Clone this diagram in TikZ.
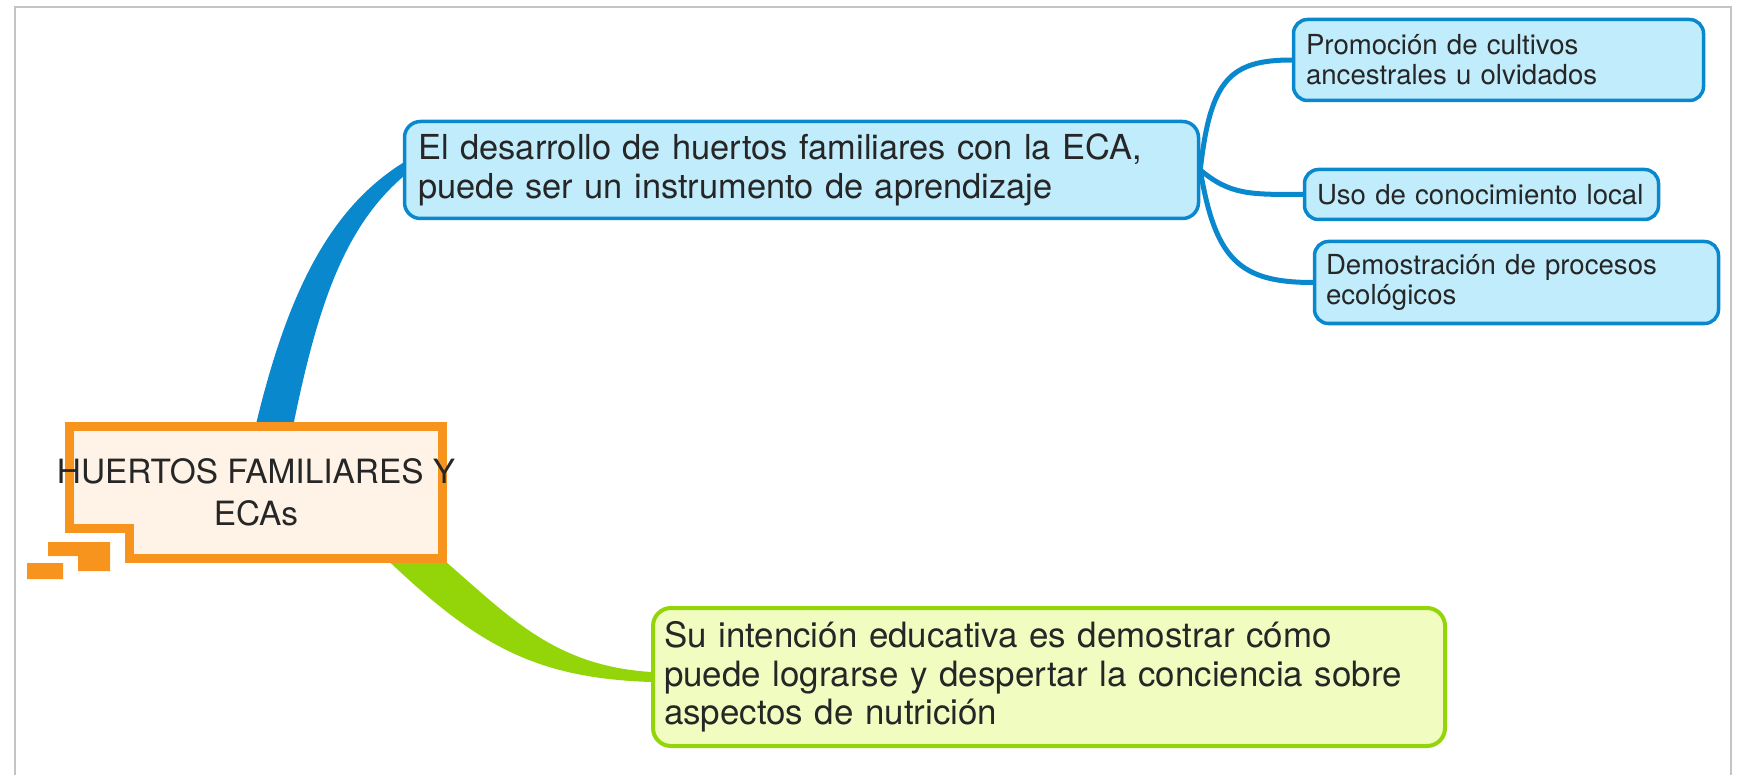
\documentclass[tikz,border=0pt]{standalone}
\usepackage{fontspec}
\setmainfont{TeX Gyre Heros}
\definecolor{cBlue}{HTML}{0A88CE}
\definecolor{cBlueFill}{HTML}{C0ECFC}
\definecolor{cGreen}{HTML}{94D50A}
\definecolor{cGreenFill}{HTML}{F1FCC0}
\definecolor{cOrange}{HTML}{F7941E}
\definecolor{cCream}{HTML}{FEF3E6}
\definecolor{cFrame}{HTML}{C4C4C4}
\definecolor{cInk}{HTML}{262626}
\usetikzlibrary{calc}
\usetikzlibrary{backgrounds}
\tikzset{
	topic/.style={draw=cBlue, fill=cBlueFill, line width=3.5pt, rounded corners=16pt, inner sep=0pt, text=cInk, align=left, font=\fontsize{34.4}{38.5}\selectfont},
	subtopic/.style={topic, rounded corners=14pt, font=\fontsize{27.6}{30}\selectfont},
	leaf/.style={topic, draw=cGreen, fill=cGreenFill, line width=4pt, rounded corners=18pt, font=\fontsize{34.9}{38.5}\selectfont},
	twig/.style={cBlue, line width=5pt},
}

\begin{document}
\begin{tikzpicture}[x=1pt, y=-1pt]
			\useasboundingbox (0,0) rectangle (1744,775);
			\node[minimum width=372, minimum height=131, inner sep=0pt] (hub) at (256,492.5) {};
			\node[font=\fontsize{33.4}{42}\selectfont, text=cInk, align=center, inner sep=0pt] (hubtext) at (hub.center) {HUERTOS FAMILIARES Y\\ECAs};
			\node[topic, minimum width=794, minimum height=97, text width=766] (desarrollo) at (801.5,170) {El desarrollo de huertos familiares con la ECA,\\puede ser un instrumento de aprendizaje};
			\node[subtopic, minimum width=410, minimum height=81, text width=385] (promocion) at (1498.5,60) {Promoción de cultivos\\ancestrales u olvidados};
			\node[subtopic, minimum width=354, minimum height=50, text width=329] (uso) at (1481.5,194.5) {Uso de conocimiento local};
			\node[subtopic, minimum width=404, minimum height=82, text width=381] (demo) at (1516.5,282.5) {Demostración de procesos\\ecológicos};
			\node[leaf, minimum width=792, minimum height=138, text width=770] (intencion) at (1049,677) {Su intención educativa es demostrar cómo\\puede lograrse y despertar la conciencia sobre\\aspectos de nutrición};
			\begin{scope}[on background layer]
				\draw [cFrame, line width=1.5pt] (15,775) -- (15,7) -- (1731,7) -- (1731,775);
				\fill [cBlue] ($(hub.north)+(-3,10)$) .. controls +(30,-129) and +(-80,50) .. ($(desarrollo.west)+(0,-7)$) -- ($(desarrollo.west)+(0,7)$) .. controls +(-60,52) and +(25,-127) .. ($(hub.north)+(35,10)$) -- cycle;
				\fill [cGreen] ($(hub.south east)+(-22,-18)$) .. controls +(80,65) and +(-108,-7) .. ($(intencion.west)+(0,-5)$) -- ($(intencion.west)+(0,5)$) .. controls +(-123,-4) and +(95,92) .. ($(hub.south east)+(-67,-10)$) -- cycle;
				\draw [twig] (desarrollo.east) .. controls +(10,-90) and +(-62,0) .. (promocion.west);
				\draw [twig] (desarrollo.east) .. controls +(30,25) and +(-53,0) .. (uso.west);
				\draw [twig] (desarrollo.east) .. controls +(15,90) and +(-73,0) .. (demo.west);
				\draw [cOrange, fill=cCream, line width=9pt] (hub.north west) -| (hub.south east) -- ($(hub.south west)+(60,0)$) |- ($(hub.south west)+(0,-30)$) -- cycle;
				\fill [cOrange] (48,542) -- (110,542) -- (110,571) -- (78,571) -- (78,556) -- (48,556) -- cycle (27,563) rectangle (63,579);
			\end{scope}
		\end{tikzpicture}
\end{document}
